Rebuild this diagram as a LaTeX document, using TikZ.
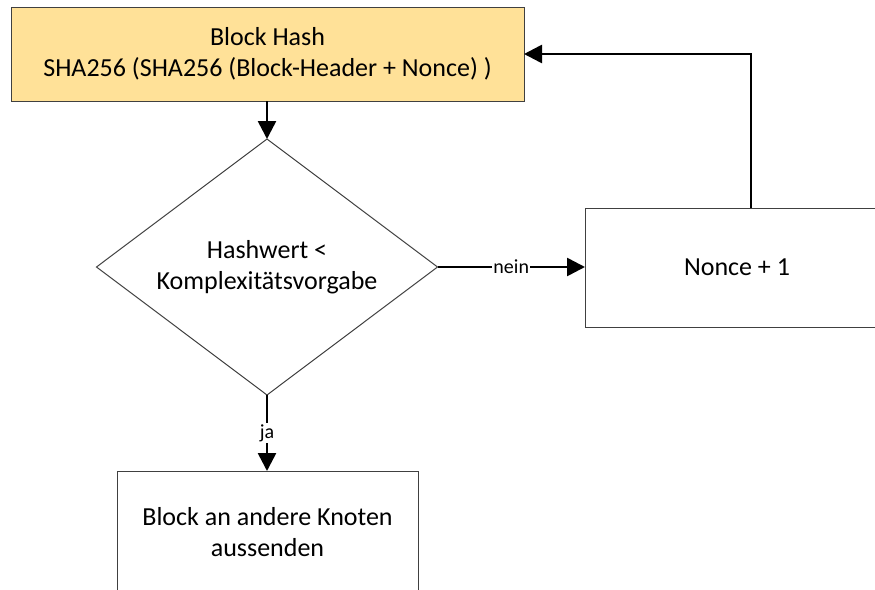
\documentclass[tikz,border=0pt]{standalone}
\usepackage{fontspec}
\setmainfont{Carlito}
\usetikzlibrary{shapes.geometric,arrows.meta}
\definecolor{hashfill}{RGB}{255,225,152}
\begin{document}
\begin{tikzpicture}[x=1pt,y=-1pt,
  box/.style={draw=black!75, line width=1pt, inner sep=0pt, outer sep=0pt, align=center, font=\fontsize{26}{31.5}\selectfont},
  conn/.style={line width=2.6pt, -{Triangle[length=18pt,width=18pt]}},
  lbl/.style={fill=white, inner sep=1pt, font=\fontsize{20}{24}\selectfont}]
\useasboundingbox (0,0) rectangle (875,589);
\clip (0,0) rectangle (875,589);
\node[box, fill=hashfill, minimum width=513pt, minimum height=94pt] (hash) at (267.5,54)
  {Block Hash\\SHA256 (SHA256 (Block-Header + Nonce) )};
\node[box, diamond, aspect=1.332, minimum width=341pt, minimum height=256pt] (dia) at (267,267)
  {Hashwert <\\Komplexitätsvorgabe};
\node[box, minimum width=304pt, minimum height=119pt] (nonce) at (737,267.5) {Nonce + 1};
\node[box, minimum width=301pt, minimum height=122pt] (out) at (267.5,532)
  {Block an andere Knoten\\aussenden};
\coordinate (fb) at (751,54);
\draw[conn] (hash.south -| dia.north) -- (dia.north);
\draw[conn] (dia.east) -- node[lbl] {nein} (nonce.west |- dia.east);
\draw[conn] (fb |- nonce.north) -- (fb) -- (hash.east |- fb);
\draw[conn] (dia.south) -- node[lbl] {ja} (dia.south |- out.north);
\end{tikzpicture}
\end{document}
